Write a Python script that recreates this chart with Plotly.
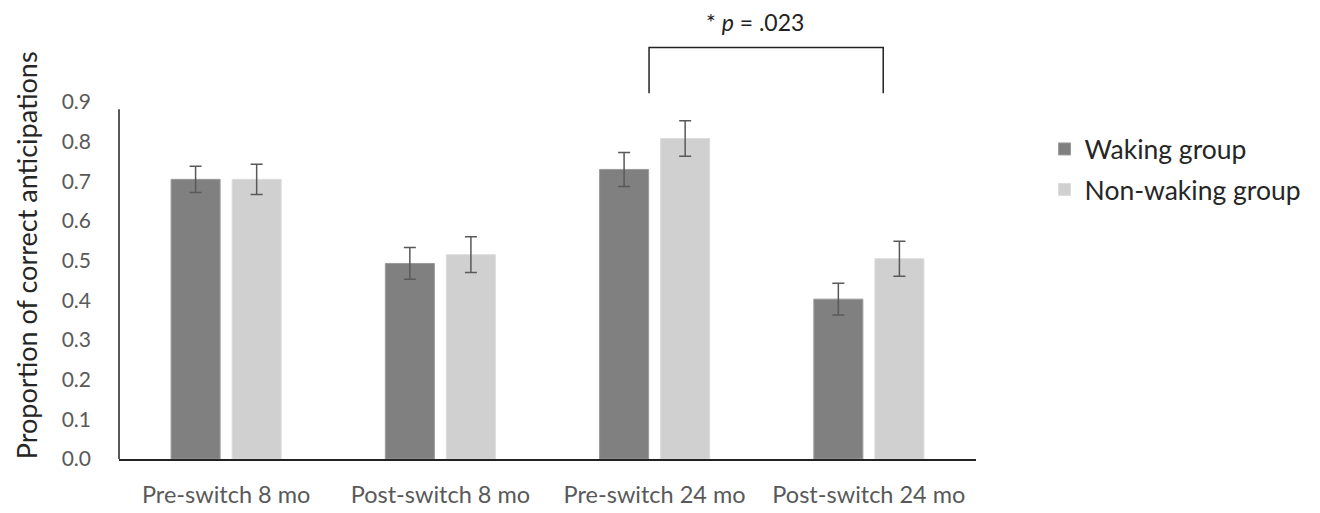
import plotly.graph_objects as go

categories = ["Pre-switch 8 mo", "Post-switch 8 mo", "Pre-switch 24 mo", "Post-switch 24 mo"]
waking = [0.705, 0.493, 0.730, 0.403]
waking_err = [0.033, 0.040, 0.043, 0.040]
nonwaking = [0.705, 0.515, 0.808, 0.505]
nonwaking_err = [0.038, 0.045, 0.045, 0.044]
y_ticks = [0.0, 0.1, 0.2, 0.3, 0.4, 0.5, 0.6, 0.7, 0.8, 0.9]
y_tick_labels = ["0.0", "0.1", "0.2", "0.3", "0.4", "0.5", "0.6", "0.7", "0.8", "0.9"]
y_title = "Proportion of correct anticipations"
sig_label = "* <i>p</i> = .023"

FONT = "Lato"
DARK = "#808080"
LIGHT = "#d0d0d0"
ERR = "#595959"
TICKC = "#595959"
TEXTC = "#262626"

fig = go.Figure()
fig.add_trace(go.Bar(
    x=categories, y=waking, name="Waking group", legendgroup="w",
    marker=dict(color=DARK, line=dict(color="#9a9a9a", width=1)),
    error_y=dict(type="data", array=waking_err, color=ERR, thickness=1.5, width=6),
))
fig.add_trace(go.Bar(
    x=categories, y=nonwaking, name="Non-waking group", legendgroup="n",
    marker=dict(color=LIGHT, line=dict(color="#dcdcdc", width=1)),
    error_y=dict(type="data", array=nonwaking_err, color=ERR, thickness=1.5, width=6),
))

# significance bracket between Pre-switch 24 mo and Post-switch 24 mo (y in paper units)
fig.add_shape(type="path", xref="x", yref="paper",
              path="M 1.974,1.0244 L 1.974,1.153 L 3.067,1.153 L 3.067,1.0244",
              line=dict(color="#222222", width=1.5))
fig.add_annotation(x=2.47, y=1.153, xref="x", yref="paper", text=sig_label,
                   showarrow=False, yanchor="bottom", yshift=9,
                   font=dict(family=FONT, size=23, color="#222222"))

# y-axis title (placed as in the original, slightly above the plot centre)
fig.add_annotation(x=-0.1085, y=0.571, xref="paper", yref="paper", text=y_title,
                   textangle=-90, showarrow=False, xanchor="center", yanchor="middle",
                   font=dict(family=FONT, size=27, color=TEXTC))

# vertical axis line (stops a bit below the top tick, as in the original)
fig.add_shape(type="line", xref="paper", yref="y", x0=0, x1=0, y0=0, y1=0.882,
              line=dict(color="#222222", width=1.5))

# the page body adds an 8px offset, so margins are reduced by 8px on left/top
fig.update_layout(
    width=1320, height=513,
    margin=dict(l=111, r=352, t=94, b=62, autoexpand=False),
    paper_bgcolor="white", plot_bgcolor="white",
    barmode="group", bargap=0.43, bargroupgap=0.197,
    font=dict(family=FONT, color=TICKC),
    showlegend=True,
    legend=dict(x=1.08, y=0.935, xanchor="left", yanchor="top",
                font=dict(family=FONT, size=26.5, color=TEXTC),
                tracegroupgap=3, itemwidth=30, bgcolor="rgba(0,0,0,0)"),
    xaxis=dict(showline=True, linecolor="#222222", linewidth=1.5, automargin=False,
               tickfont=dict(family=FONT, size=23.5, color=TICKC),
               ticks="", ticklabelstandoff=14, showgrid=False, zeroline=False),
    yaxis=dict(range=[0, 0.9], tickvals=y_ticks, ticktext=y_tick_labels,
               showline=False, showgrid=False, zeroline=False, ticks="", automargin=False,
               tickfont=dict(family=FONT, size=21, color=TICKC),
               ticklabelstandoff=27),
)
fig.write_html("out.html")
